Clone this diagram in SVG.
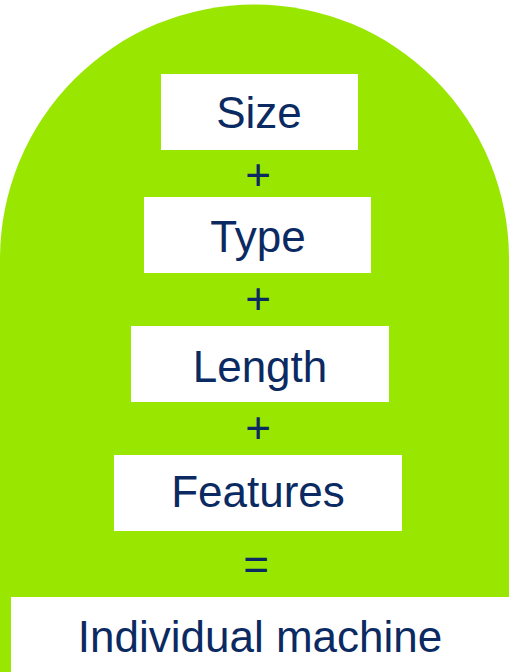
<svg xmlns="http://www.w3.org/2000/svg" width="509" height="672" viewBox="0 0 509 672">
<style>
.box{fill:#ffffff}
.t{font-family:"Liberation Sans",Arial,sans-serif;font-size:44px;fill:#0B2A62;text-anchor:middle}
</style>
<rect width="509" height="672" fill="#ffffff"/>
<path id="arch" d="M0,672 L0,259 A254.5,254.5 0 0 1 509,259 L509,672 Z" fill="#99E600"/>
<g id="size"><rect class="box" x="161" y="74" width="197" height="76"/><text class="t" x="259" y="128">Size</text></g>
<g id="plus1"><text class="t" x="258" y="190">+</text></g>
<g id="type"><rect class="box" x="144" y="197" width="227" height="76"/><text class="t" x="258" y="252">Type</text></g>
<g id="plus2"><text class="t" x="258" y="314">+</text></g>
<g id="length"><rect class="box" x="131" y="326" width="258" height="76"/><text class="t" x="260" y="382">Length</text></g>
<g id="plus3"><text class="t" x="258" y="443">+</text></g>
<g id="features"><rect class="box" x="114" y="455" width="288" height="76"/><text class="t" x="258" y="507">Features</text></g>
<g id="equals"><text class="t" x="256" y="580">=</text></g>
<g id="result"><rect class="box" x="11" y="597" width="498" height="75"/><text class="t" x="260" y="652">Individual machine</text></g>
<g id="connectors"></g>
</svg>
